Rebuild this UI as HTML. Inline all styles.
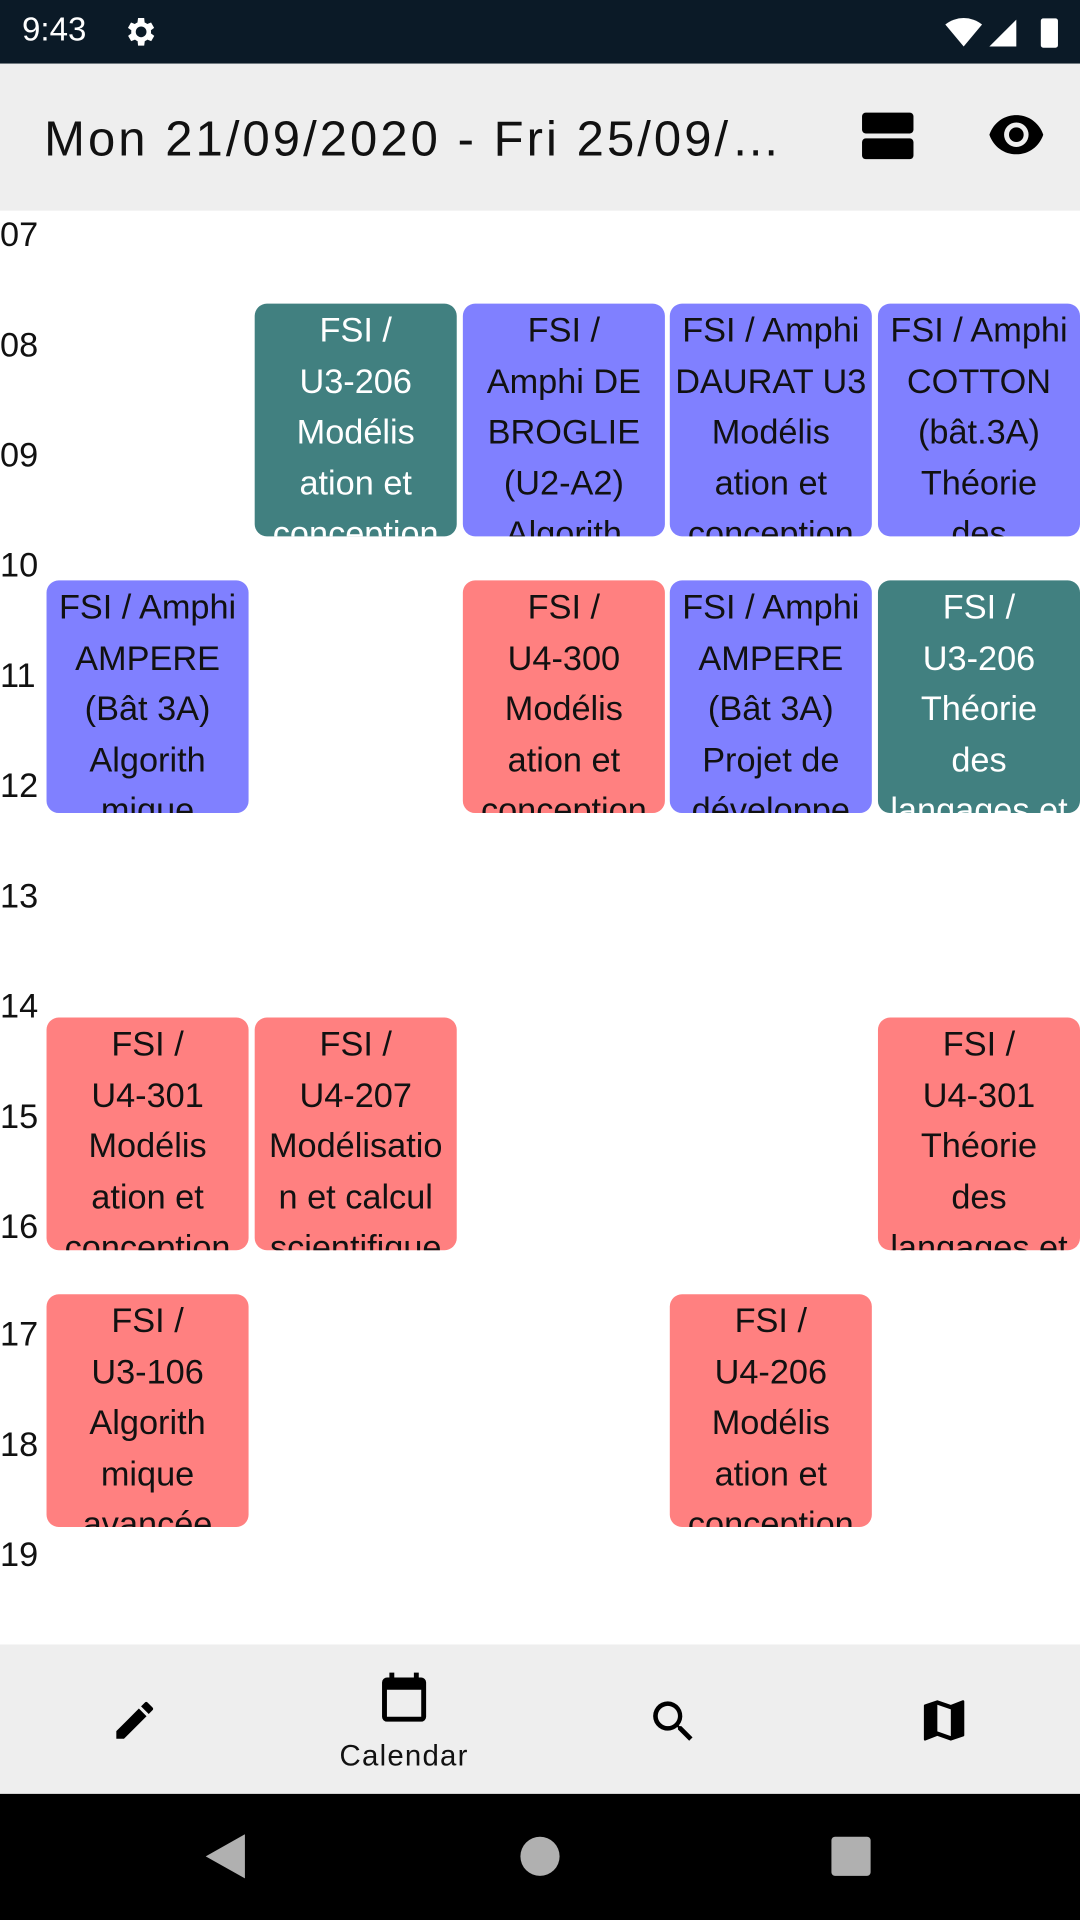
<!DOCTYPE html>
<html><head><meta charset="utf-8"><style>
html,body{margin:0;padding:0;width:1080px;height:1920px;overflow:hidden;background:#fff}
#w{position:absolute;left:0;top:0;width:882px;height:1568px;transform:scale(1.22449);transform-origin:0 0;font-family:"Liberation Sans",sans-serif}
.a{position:absolute}
.h{position:absolute;left:0;font-size:28px;line-height:36px;color:#111}
.e{position:absolute;width:165px;height:190px;border-radius:10px;overflow:hidden;text-align:center;font-size:28px;line-height:41.5px;white-space:nowrap;padding-top:0;color:#111}
.t{background:#418080;color:#fff}.b{background:#8080ff}.r{background:#ff8080}
.e div{margin-top:1px}
</style></head><body><div id="w">
<div class="a" style="left:0;top:0;width:882px;height:52px;background:#0b1a27"></div>
<div class="a" style="left:18px;top:9px;color:#fff;font-size:27px">9:43</div>
<svg class="a" style="left:99px;top:11px" width="30" height="30" viewBox="0 0 24 24"><path fill="#fff" d="M19.4 13a7.8 7.8 0 000-2l2.1-1.6-2-3.5-2.5 1a7.5 7.5 0 00-1.7-1L15 3h-4l-.4 2.9a7.5 7.5 0 00-1.7 1l-2.5-1-2 3.5L6.6 11a7.8 7.8 0 000 2l-2.1 1.6 2 3.5 2.5-1a7.5 7.5 0 001.7 1L11 21h4l.4-2.9a7.5 7.5 0 001.7-1l2.5 1 2-3.5zM13 15.5a3.5 3.5 0 110-7 3.5 3.5 0 010 7z"/></svg>
<svg class="a" style="left:770px;top:12px" width="96" height="28" viewBox="0 0 96 28"><path fill="#fff" d="M2 8a24 24 0 0130 0L17 26z"/><path fill="#fff" d="M38 26L60 4v22z"/><rect x="80" y="3" width="14" height="24" rx="2" fill="#fff"/></svg>
<div class="a" style="left:0;top:52px;width:882px;height:120px;background:#eeeeee"></div>
<div class="a" style="left:36px;top:92px;font-size:40px;letter-spacing:2.5px;color:#111">Mon 21/09/2020 - Fri 25/09/…</div>
<div class="a" style="left:704px;top:92px;width:42px;height:17px;background:#000;border-radius:3px"></div>
<div class="a" style="left:704px;top:113px;width:42px;height:17px;background:#000;border-radius:3px"></div>
<svg class="a" style="left:806px;top:92px" width="48" height="36" viewBox="0 0 24 18"><path d="M12 1C7 1 2.7 4.1 1 9c1.7 4.9 6 8 11 8s9.3-3.1 11-8c-1.7-4.9-6-8-11-8zm0 13a5 5 0 110-10 5 5 0 010 10zm0-8a3 3 0 100 6 3 3 0 000-6z"/></svg>

<div class="h" style="top:174px">07</div><div class="h" style="top:264px">08</div><div class="h" style="top:354px">09</div><div class="h" style="top:444px">10</div><div class="h" style="top:534px">11</div><div class="h" style="top:624px">12</div><div class="h" style="top:714px">13</div><div class="h" style="top:804px">14</div><div class="h" style="top:894px">15</div><div class="h" style="top:984px">16</div><div class="h" style="top:1072px">17</div><div class="h" style="top:1162px">18</div><div class="h" style="top:1252px">19</div>

<div class="e t" style="left:208px;top:248px"><div>FSI /<br>U3-206<br>Modélis<br>ation et<br>conception</div></div>
<div class="e b" style="left:378px;top:248px"><div>FSI /<br>Amphi DE<br>BROGLIE<br>(U2-A2)<br>Algorith</div></div>
<div class="e b" style="left:547px;top:248px"><div>FSI / Amphi<br>DAURAT U3<br>Modélis<br>ation et<br>conception</div></div>
<div class="e b" style="left:717px;top:248px"><div>FSI / Amphi<br>COTTON<br>(bât.3A)<br>Théorie<br>des</div></div>
<div class="e b" style="left:38px;top:474px"><div>FSI / Amphi<br>AMPERE<br>(Bât 3A)<br>Algorith<br>mique</div></div>
<div class="e r" style="left:378px;top:474px"><div>FSI /<br>U4-300<br>Modélis<br>ation et<br>conception</div></div>
<div class="e b" style="left:547px;top:474px"><div>FSI / Amphi<br>AMPERE<br>(Bât 3A)<br>Projet de<br>développe</div></div>
<div class="e t" style="left:717px;top:474px"><div>FSI /<br>U3-206<br>Théorie<br>des<br>langages et</div></div>
<div class="e r" style="left:38px;top:831px"><div>FSI /<br>U4-301<br>Modélis<br>ation et<br>conception</div></div>
<div class="e r" style="left:208px;top:831px"><div>FSI /<br>U4-207<br>Modélisatio<br>n et calcul<br>scientifique</div></div>
<div class="e r" style="left:717px;top:831px"><div>FSI /<br>U4-301<br>Théorie<br>des<br>langages et</div></div>
<div class="e r" style="left:38px;top:1057px"><div>FSI /<br>U3-106<br>Algorith<br>mique<br>avancée</div></div>
<div class="e r" style="left:547px;top:1057px"><div>FSI /<br>U4-206<br>Modélis<br>ation et<br>conception</div></div>

<div class="a" style="left:0;top:1343px;width:882px;height:122px;background:#eeeeee"></div>
<svg class="a" style="left:90px;top:1385px" width="40" height="40" viewBox="0 0 24 24"><path d="M3 17.25V21h3.75L17.8 9.94l-3.75-3.75zM20.7 7.04a1 1 0 000-1.41l-2.34-2.34a1 1 0 00-1.41 0l-1.830 1.83 3.75 3.75z"/></svg>
<svg class="a" style="left:306px;top:1362px" width="48" height="48" viewBox="0 0 24 24"><path d="M19 4h-1V2h-2v2H8V2H6v2H5a2 2 0 00-2 2v14a2 2 0 002 2h14a2 2 0 002-2V6a2 2 0 00-2-2zm0 16H5V9h14z"/></svg>
<div class="a" style="left:250px;top:1421px;width:160px;text-align:center;font-size:24px;letter-spacing:1px;color:#111">Calendar</div>
<svg class="a" style="left:528px;top:1384px" width="44" height="44" viewBox="0 0 24 24"><path d="M15.5 14h-.8l-.3-.3A6.5 6.5 0 109.5 16a6.5 6.5 0 004.2-1.6l.3.3v.8l5 5 1.5-1.5zm-6 0a4.5 4.5 0 110-9 4.5 4.5 0 010 9z"/></svg>
<svg class="a" style="left:749px;top:1383px" width="44" height="44" viewBox="0 0 24 24"><path d="M20.5 3l-.2.03L15 5.1 9 3 3.36 4.9a.5.5 0 00-.36.48V20.5a.5.5 0 00.5.5l.2-.03L9 18.9l6 2.1 5.64-1.9a.5.5 0 00.36-.48V3.5a.5.5 0 00-.5-.5zM15 19l-6-2.11V5l6 2.110z"/></svg>

<div class="a" style="left:0;top:1465px;width:882px;height:103px;background:#000"></div>
<svg class="a" style="left:166px;top:1496px" width="36" height="40" viewBox="0 0 36 40"><path d="M34 2v36L2 20z" fill="#b0b0b0"/></svg>
<div class="a" style="left:425px;top:1500px;width:32px;height:32px;border-radius:50%;background:#b0b0b0"></div>
<div class="a" style="left:679px;top:1500px;width:32px;height:32px;border-radius:3px;background:#b0b0b0"></div>
</div></body></html>
